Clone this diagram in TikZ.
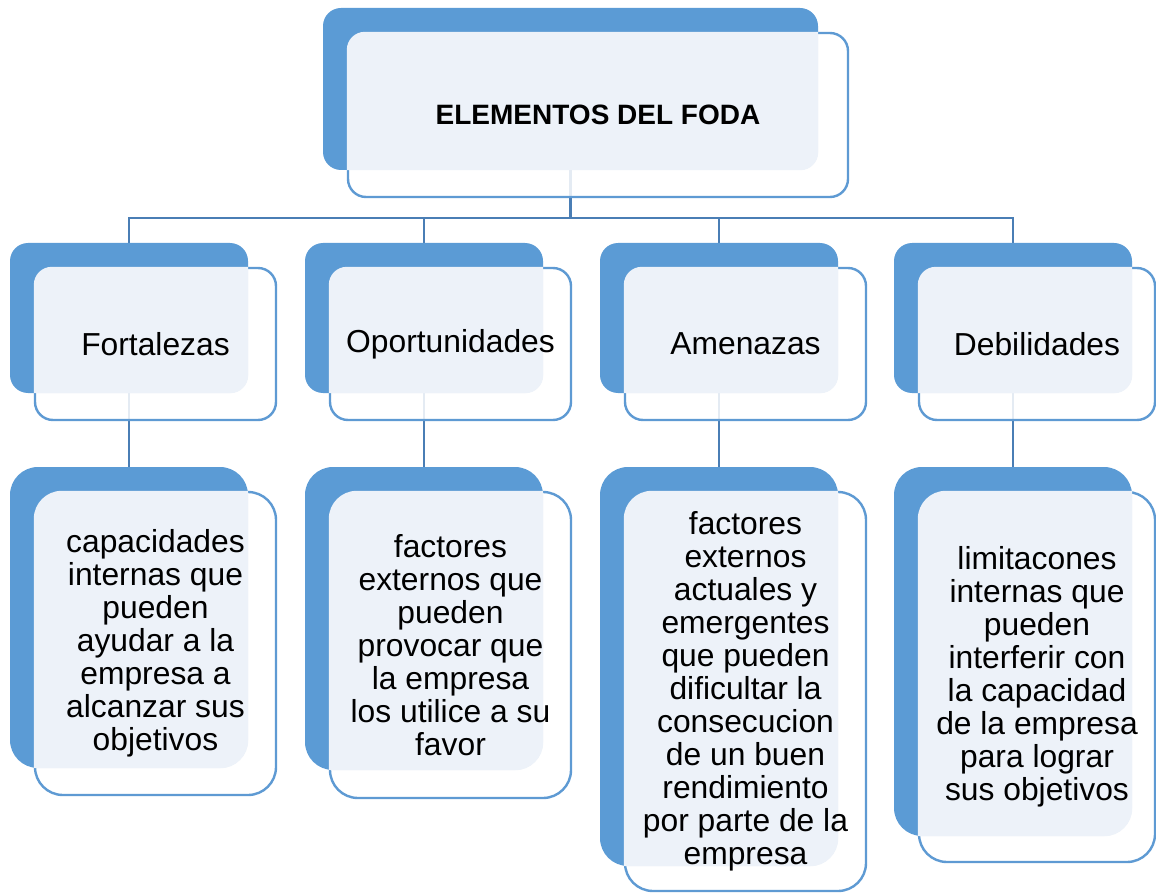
\documentclass[tikz,border=0pt]{standalone}
\usepackage{fontspec}
\setmainfont{Liberation Sans}
\definecolor{backblue}{HTML}{5B9BD5}
\definecolor{edgeblue}{HTML}{5E9AD3}
\definecolor{lightfill}{HTML}{EDF2F9}
\definecolor{connblue}{HTML}{4A7EB5}
\tikzset{
  backbox/.style={rectangle, rounded corners=#1, fill=backblue, draw=none, inner sep=0pt},
  frontbox/.style={rectangle, rounded corners=#1, fill=white, fill opacity=0.85, draw=edgeblue, line width=2.4pt, inner sep=0pt},
  conn/.style={draw=connblue, line width=2.6pt},
  bodytxt/.style={align=center, inner sep=0pt, font=\fontsize{31.8}{33}\selectfont},
  headtxt/.style={align=center, inner sep=0pt, font=\fontsize{31.8}{33}\selectfont},
  titletxt/.style={align=center, inner sep=0pt, font=\fontsize{28}{32}\selectfont\bfseries}
}
% #1 name, #2 bx1, #3 by1, #4 bx2, #5 by2, #6 fx2, #7 fy2, #8 radius
\newcommand\fodabox[8]{%
  \node[backbox=#8pt, minimum width={(#4-#2)*1pt}, minimum height={(#5-#3)*1pt}] (#1B) at ({(#2+#4)/2},{(#3+#5)/2}) {};
  \node[frontbox=#8pt, minimum width={(#6-#2-25)*1pt}, minimum height={(#7-#3-25)*1pt}] (#1F) at ({(#2+25+#6)/2},{(#3+25+#7)/2}) {};
  \begin{scope}
    \clip[rounded corners=#8pt] (#1B.south west) rectangle (#1B.north east);
    \fill[lightfill, rounded corners=#8pt] (#1F.south west) rectangle (#1F.north east);
  \end{scope}
}
\begin{document}
\begin{tikzpicture}[x=1pt, y=-1pt]
\useasboundingbox (0,0) rectangle (1156,893);
\coordinate (j) at (570.5,218);
\coordinate (topS) at (570.5,170);
% connectors drawn first (under boxes)
\draw[conn] (topS) -- (j) -| (129,243);
\draw[conn] (j) -| (424,243);
\draw[conn] (j) -| (719,243);
\draw[conn] (j) -| (1013,243);
\draw[conn] (129,393) -- (129,467);
\draw[conn] (424,393) -- (424,467);
\draw[conn] (719,393) -- (719,467);
\draw[conn] (1013,393) -- (1013,467);

% top
\fodabox{top}{323}{8}{818}{170}{848}{197}{18}
\node[titletxt] (topT) at (topF.center) {ELEMENTOS DEL FODA};

% level 2
\fodabox{fort}{10}{243}{248}{393}{276}{420}{18}
\node[headtxt] (fortT) at (fortF.center) {Fortalezas};
\fodabox{opor}{305}{243}{543}{393}{571}{420}{18}
\node[headtxt] (oporT) at (oporF.center) {Oportunidades};
\fodabox{amen}{600}{243}{838}{393}{866}{420}{18}
\node[headtxt] (amenT) at (amenF.center) {Amenazas};
\fodabox{debi}{894}{243}{1132}{393}{1155}{420}{18}
\node[headtxt] (debiT) at (debiF.center) {Debilidades};

% level 3
\fodabox{fortd}{10}{467}{248}{768}{276}{795}{28}
\node[bodytxt] (fortdT) at (fortdF.center) {capacidades\\internas que\\pueden\\ayudar a la\\empresa a\\alcanzar sus\\objetivos};
\fodabox{opord}{305}{467}{543}{770}{571}{798}{28}
\node[bodytxt] (opordT) at (opordF.center) {factores\\externos que\\pueden\\provocar que\\la empresa\\los utilice a su\\favor};
\fodabox{amend}{600}{467}{838}{866}{866}{891}{28}
\node[bodytxt] (amendT) at (amendF.center) {factores\\externos\\actuales y\\emergentes\\que pueden\\dificultar la\\consecucion\\de un buen\\rendimiento\\por parte de la\\empresa};
\fodabox{debid}{894}{467}{1132}{836}{1155}{862}{28}
\node[bodytxt] (debidT) at (debidF.center) {limitacones\\internas que\\pueden\\interferir con\\la capacidad\\de la empresa\\para lograr\\sus objetivos};
\end{tikzpicture}
\end{document}
